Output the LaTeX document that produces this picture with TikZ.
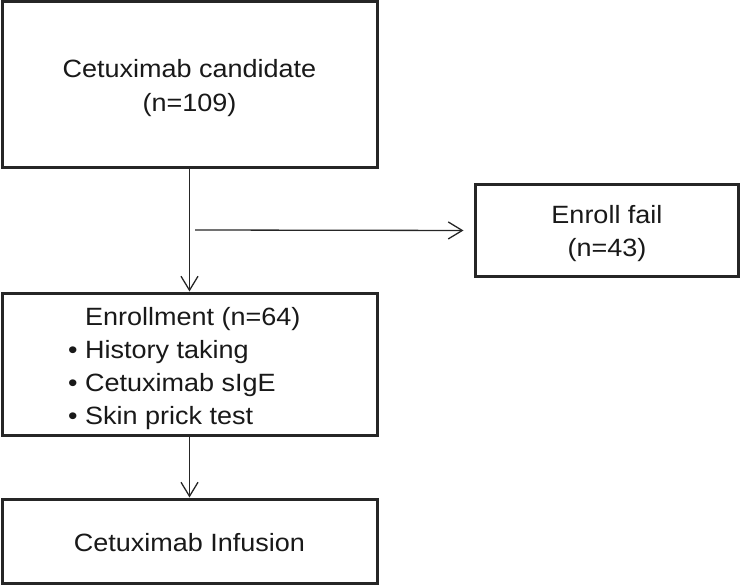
\documentclass[tikz,border=0pt]{standalone}
\usepackage{fontspec}
\setmainfont[FakeStretch=1.08]{Liberation Sans}
\usetikzlibrary{arrows.meta}
\begin{document}
\begin{tikzpicture}[x=1pt,y=-1pt,
  box/.style={draw=black!85, line width=3pt, minimum width=375pt, inner sep=0pt, fill=white},
  conn/.style={draw=black!85, line width=1.3pt, -{Straight Barb[length=14pt,width=17pt,line width=1.3pt]}},
  txt/.style={font=\fontsize{25}{33}\selectfont, inner sep=0pt, text=black!90}
]
\useasboundingbox (0,0) rectangle (741,585);
% boxes
\node[box, minimum height=166pt] (cand) at (189.5,85) {};
\node[box, minimum width=263pt, minimum height=91pt] (fail) at (606.5,230.5) {};
\node[box, minimum height=142pt] (enr) at (189.5,364) {};
\node[box, minimum height=84pt] (inf) at (189.5,541) {};
% texts
\node[txt, font=\fontsize{25}{34}\selectfont, align=center, anchor=base] (candtext) at (189.5,112) {Cetuximab candidate\\(n=109)};
\node[txt, align=center, anchor=base] (failtext) at (607,257) {Enroll fail\\(n=43)};
\node[txt, anchor=base west, align=left] (enrtext) at (68,424) {\hphantom{\textbullet\ }Enrollment (n=64)\\\textbullet\ History taking\\\textbullet\ Cetuximab sIgE\\\textbullet\ Skin prick test};
\node[txt, anchor=base] (inftext) at (189.5,551) {Cetuximab Infusion};
% connectors
\coordinate (split) at (195,230);
\draw[conn] (cand.south) -- (enr.north);
\draw[conn, shorten >=10pt] (split) -- (fail.west);
\draw[conn] (enr.south) -- (inf.north);
\end{tikzpicture}
\end{document}
